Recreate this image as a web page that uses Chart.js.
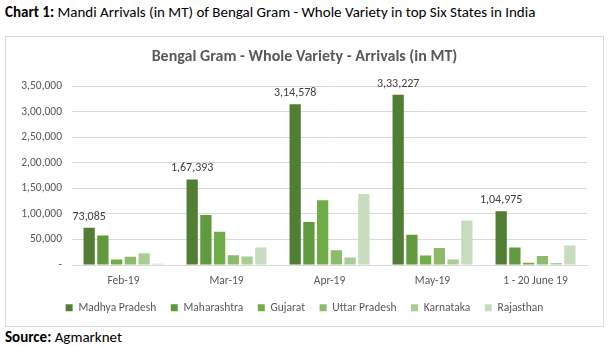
<!DOCTYPE html>
<html>
<head>
<meta charset="utf-8">
<script src="https://cdn.jsdelivr.net/npm/chart.js@4.4.1/dist/chart.umd.min.js"></script>
<style>
  html, body { margin: 0; padding: 0; background: #fff; }
  body { width: 612px; height: 347px; position: relative; font-family: Carlito, Lato, "Open Sans", sans-serif; overflow: hidden; }
  #head { position: absolute; left: 5px; top: 2px; font-size: 15px; line-height: 20px; color: #000; white-space: nowrap; }
  #box { position: absolute; left: 5px; top: 36px; width: 597px; height: 289px; border: 1px solid #d9d9d9; }
  #src { position: absolute; left: 5px; top: 327px; font-size: 15px; line-height: 20px; color: #000; white-space: nowrap; }
  canvas { position: absolute; left: 0; top: 0; }
</style>
</head>
<body>
<div id="head"><b>Chart 1:</b> Mandi Arrivals (in MT) of Bengal Gram - Whole Variety in top Six States in India</div>
<div id="box"><canvas id="c" width="597" height="289"></canvas></div>
<div id="src"><b>Source:</b> Agmarknet</div>
<script>
const categories = ["Feb-19", "Mar-19", "Apr-19", "May-19", "1 - 20 June 19"];
const madhyaPradesh = [73085, 167393, 314578, 333227, 104975];
const maharashtra   = [57900, 97800, 84300, 59200, 34100];
const gujarat       = [10900, 65000, 126800, 18700, 4500];
const uttarPradesh  = [16100, 19300, 29000, 33500, 17400];
const karnataka     = [23200, 16700, 14800, 10900, 3900];
const rajasthan     = [2600, 34100, 139000, 86900, 38000];
const seriesNames = ["Madhya Pradesh", "Maharashtra", "Gujarat", "Uttar Pradesh", "Karnataka", "Rajasthan"];
const seriesColors = ["#507E32", "#609A3C", "#70AD47", "#8CBB6C", "#A9CD92", "#C8DCBF"];
const yTicks = [0, 50000, 100000, 150000, 200000, 250000, 300000, 350000];
const chartTitle = "Bengal Gram - Whole Variety - Arrivals (in MT)";

function indianFormat(v) {
  const s = Math.round(v).toString();
  if (s.length <= 3) return s;
  const last3 = s.slice(-3);
  let rest = s.slice(0, -3);
  const parts = [];
  while (rest.length > 2) { parts.unshift(rest.slice(-2)); rest = rest.slice(0, -2); }
  if (rest.length) parts.unshift(rest);
  return parts.join(",") + "," + last3;
}

const allSeries = [madhyaPradesh, maharashtra, gujarat, uttarPradesh, karnataka, rajasthan];
const datasets = allSeries.map((d, i) => ({
  label: seriesNames[i],
  data: d,
  backgroundColor: seriesColors[i],
  borderWidth: 0,
  categoryPercentage: 0.8,
  barPercentage: 0.82
}));

const FONT = "Carlito, Lato, 'Open Sans', sans-serif";

const labelPlugin = {
  id: "mpLabels",
  beforeLayout(chart) {
    const lg = chart.legend;
    if (lg && !lg._fitWrapped) {
      const orig = lg.fit.bind(lg);
      lg.fit = function () { orig(); this.height = 38.5; };
      lg._fitWrapped = true;
    }
  },
  afterLayout(chart) {
    // center title and legend on the whole box, like the original
    if (chart.titleBlock) chart.titleBlock.right += 16;
    if (chart.legend) chart.legend.right += 16;
  },
  afterDatasetsDraw(chart) {
    const ctx = chart.ctx;
    const meta = chart.getDatasetMeta(0);
    ctx.save();
    ctx.font = "12px " + FONT;
    ctx.fillStyle = "#404040";
    ctx.textAlign = "center";
    ctx.textBaseline = "bottom";
    meta.data.forEach((el, i) => {
      ctx.fillText(indianFormat(madhyaPradesh[i]), el.x, el.y - 5);
    });
    ctx.restore();
  }
};

new Chart(document.getElementById("c"), {
  type: "bar",
  data: { labels: categories, datasets },
  plugins: [labelPlugin],
  options: {
    responsive: false,
    animation: false,
    layout: { padding: { left: 0, right: 16, top: 0, bottom: 0 } },
    plugins: {
      title: {
        display: true, text: chartTitle, color: "#595959",
        font: { family: FONT, size: 16, weight: "bold" },
        padding: { top: 10.5, bottom: 19.5 }
      },
      legend: {
        position: "bottom",
        labels: {
          color: "#595959", boxWidth: 7, boxHeight: 7, padding: 14.5,
          font: { family: FONT, size: 11.5 }
        }
      },
      tooltip: { enabled: false }
    },
    scales: {
      x: {
        afterFit(scale) { scale.height = 22.5; },
        grid: { display: false, drawTicks: false },
        border: { display: true, color: "#d9d9d9" },
        ticks: { color: "#595959", font: { family: FONT, size: 11.5 }, padding: 9 }
      },
      y: {
        min: 0, max: 350000,
        afterFit(scale) { scale.width = 66; },
        afterBuildTicks(scale) { scale.ticks = yTicks.map(v => ({ value: v })); },
        grid: { color: "#d9d9d9", drawTicks: false },
        border: { display: false },
        ticks: {
          color: "#595959", padding: 10,
          font: { family: FONT, size: 11.5 },
          callback: (v) => v === 0 ? "-" : indianFormat(v)
        }
      }
    }
  }
});
</script>
</body>
</html>
